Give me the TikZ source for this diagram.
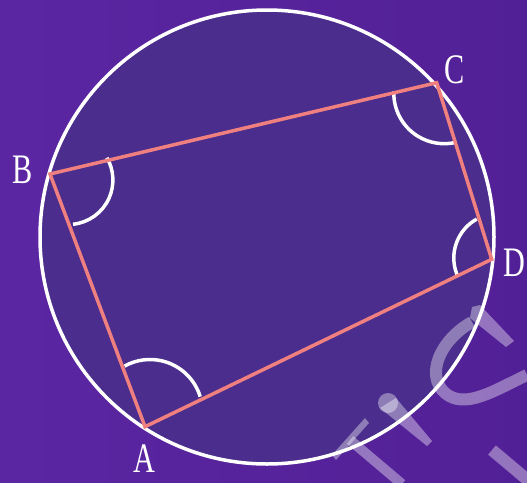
\documentclass[tikz,border=0pt]{standalone}
\usepackage{fontspec}
\setmainfont{Liberation Serif}
\usetikzlibrary{calc}
\definecolor{bgL}{RGB}{91,38,162}
\definecolor{bgR}{RGB}{82,32,150}
\definecolor{disc}{RGB}{74,45,140}
\definecolor{side}{RGB}{240,128,128}
\tikzset{
  sideline/.style={draw=side,line width=3.5pt,line join=miter},
  anglearc/.style={draw=white,line width=3.5pt},
  rim/.style={draw=white,line width=3.5pt,fill=disc},
  lab/.style={text=white,inner sep=0pt,font=\fontsize{42}{42}\selectfont},
  wm/.style={draw=white,draw opacity=0.38,line cap=round}
}
\begin{document}
\begin{tikzpicture}[x=1pt,y=1pt]
\useasboundingbox (0,0) rectangle (527,-482);
\clip (0,0) rectangle (527,-482);
\shade[left color=bgL,right color=bgR] (0,0) rectangle (527,-482);
% circle
\node[circle,rim,minimum size=454pt,inner sep=0pt] (O) at (267,-237) {};
% vertices
\coordinate (A) at (145,-426.7);
\coordinate (B) at (50,-174);
\coordinate (C) at (436.7,-82.7);
\coordinate (D) at (491.7,-259.3);
% angle arcs
\draw[anglearc] ([shift={(444.3,-93.2)}]178:50.5) arc[start angle=178,end angle=284,radius=50.5];
\draw[anglearc] ([shift={(498.3,-258)}]119:44.5) arc[start angle=119,end angle=202,radius=44.5];
\draw[anglearc] ([shift={(68.4,-180)}]-84:44.5) arc[start angle=-84,end angle=30,radius=44.5];
\draw[anglearc] ([shift={(150,-412)}]17:52.5) arc[start angle=17,end angle=119,radius=52.5];
% quadrilateral
\draw[sideline] (A) -- (B) -- (C) -- (D) -- cycle;
% watermark fragments
\draw[wm,line width=12pt,line cap=butt] (472,-322) .. controls (440,-340) and (425,-375) .. (445,-393) .. controls (465,-410) and (495,-390) .. (527,-375);
\fill[white,opacity=0.38] (472,-307) -- (480,-305) -- (514,-341) -- (506,-347) -- (470,-318) -- cycle;
\fill[white,opacity=0.38] (388,-403) circle (10);
\fill[white,opacity=0.38] (380,-408) -- (396,-398) -- (432,-441) -- (427,-446) -- cycle;
\draw[wm,line width=10pt,line cap=butt] (350,-440) -- (402,-484);
\fill[white,opacity=0.38] (332,-455) -- (336,-460) -- (369,-423) -- (365,-418) -- cycle;
\draw[wm,line width=12pt,line cap=butt] (492,-450) -- (530,-482);
% labels
\node[lab,anchor=base] (lA) at (144,-472) {\scalebox{0.72}[1]{A}};
\node[lab,anchor=base] (lB) at (23,-183.3) {\scalebox{0.72}[1]{B}};
\node[lab,anchor=base] (lC) at (455,-83) {\scalebox{0.72}[1]{C}};
\node[lab,anchor=base west] (lD) at (503,-276.7) {\scalebox{0.72}[1]{D}};
\end{tikzpicture}
\end{document}
